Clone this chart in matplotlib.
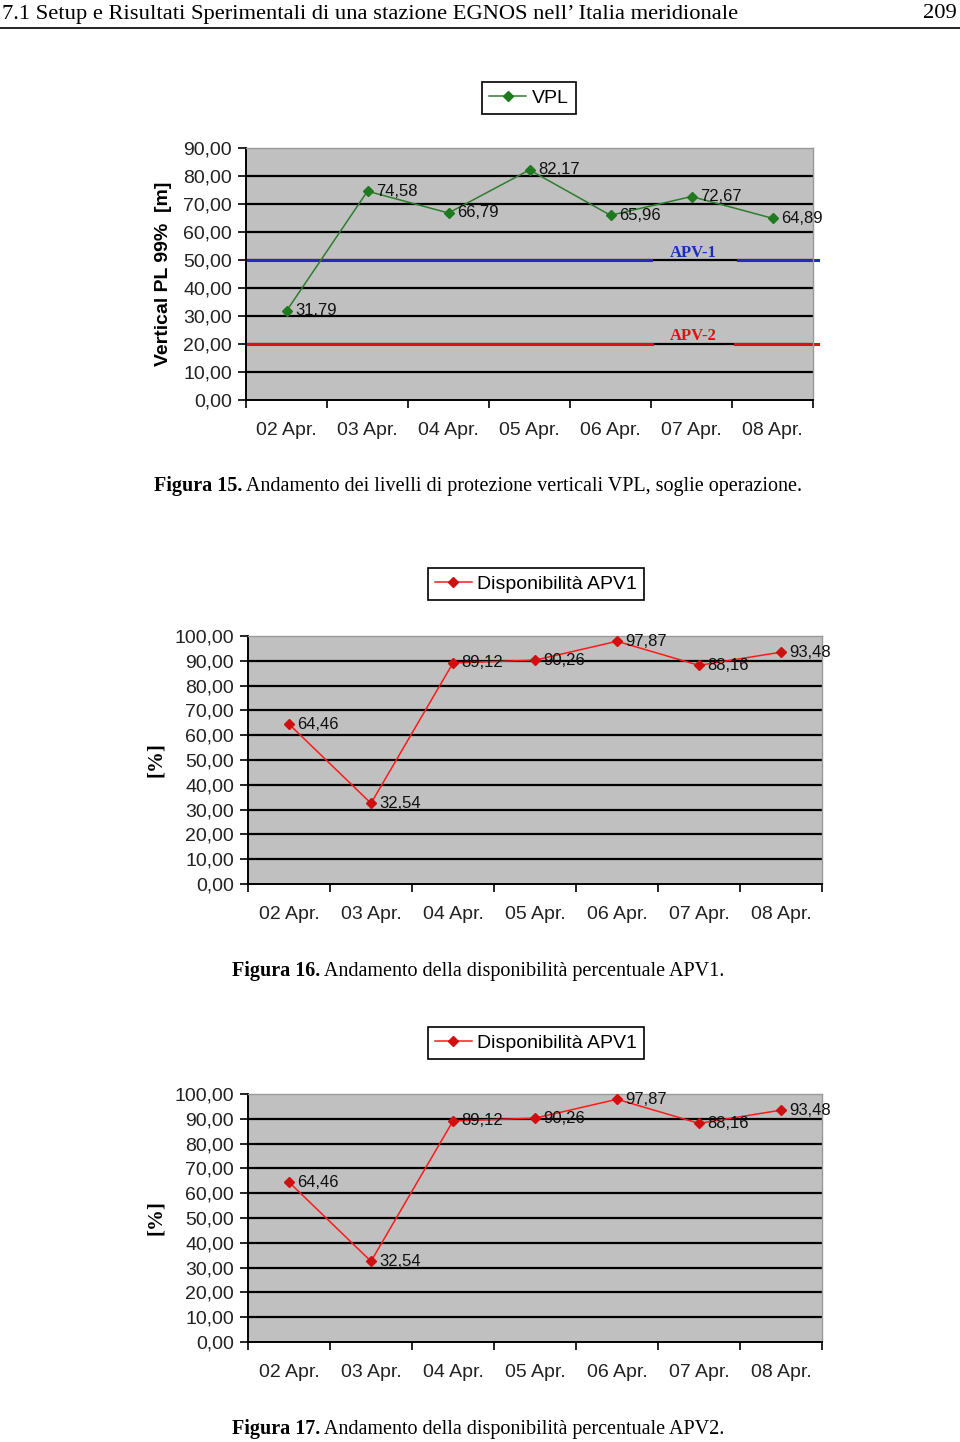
import matplotlib
matplotlib.use("Agg")
import matplotlib.pyplot as plt

days = ["02 Apr.", "03 Apr.", "04 Apr.", "05 Apr.", "06 Apr.", "07 Apr.", "08 Apr."]
vpl = [31.79, 74.58, 66.79, 82.17, 65.96, 72.67, 64.89]
apv1_thr = 50
apv2_thr = 20
disp_apv1 = [64.46, 32.54, 89.12, 90.26, 97.87, 88.16, 93.48]
disp_apv2 = [64.46, 32.54, 89.12, 90.26, 97.87, 88.16, 93.48]

W, H = 960, 1442
fig = plt.figure(figsize=(W / 100, H / 100), dpi=100)

SANS = "Liberation Sans"
SERIF = "Liberation Serif"


def fx(px):
    return px / W


def fy(py):
    return 1 - py / H


def comma(v):
    return ("%.2f" % v).replace(".", ",")


def make_chart(rect, values, ymax, color, mcolor, label, ylabel, legend_xy, ylab_x, ylab_font):
    ax = fig.add_axes(rect)
    ax.set_facecolor("#c0c0c0")
    x = range(len(values))
    ax.plot(x, values, color=color, lw=1.1, marker="D", ms=5.5,
            mfc=mcolor, mec=mcolor, label=label, zorder=5)
    for i, v in enumerate(values):
        ax.annotate(comma(v), (i, v), xytext=(6, 0), textcoords="offset points",
                    ha="left", va="center", fontsize=12, family=SANS, color="#111111", zorder=6)
    ax.set_xlim(-0.5, len(values) - 0.5)
    ax.set_ylim(0, ymax)
    yt = list(range(0, ymax + 1, 10))
    ax.set_yticks(yt)
    ax.set_yticklabels([comma(t) for t in yt], fontsize=14, family=SANS, color="#222222")
    for t in yt[1:-1]:
        ax.axhline(t, color="black", lw=1.6, zorder=1)
    ax.set_xticks(list(x))
    ax.set_xticklabels(days, fontsize=14, family=SANS, color="#222222")
    ax.set_xticks([i - 0.5 for i in range(len(values) + 1)], minor=True)
    ax.tick_params(axis="x", which="major", length=0, pad=16)
    ax.tick_params(axis="x", which="minor", length=6, width=1.2, direction="out")
    ax.tick_params(axis="y", length=6, width=1.2, direction="out", pad=4)
    for s in ("top", "right"):
        ax.spines[s].set_color("#999999")
        ax.spines[s].set_linewidth(1.0)
    for s in ("left", "bottom"):
        ax.spines[s].set_color("black")
        ax.spines[s].set_linewidth(1.4)
    fig.text(ylab_x, rect[1] + rect[3] / 2, ylabel, rotation=90, ha="center", va="center",
             **ylab_font)
    leg = ax.legend(loc="center", bbox_to_anchor=legend_xy, bbox_transform=fig.transFigure,
                    fancybox=False, edgecolor="black", framealpha=1, borderpad=0.35,
                    handlelength=1.9, handletextpad=0.3,
                    prop={"family": SANS, "size": 14})
    leg.get_frame().set_linewidth(1.2)
    return ax


# header
fig.text(fx(2), fy(14), "7.1 Setup e Risultati Sperimentali di una stazione EGNOS nell\u2019 Italia meridionale",
         ha="left", va="center", fontsize=16.2, family=SERIF)
fig.text(fx(957), fy(14), "209", ha="right", va="center", fontsize=16.2, family=SERIF)
fig.add_artist(plt.Line2D([0, 1], [fy(28), fy(28)], color="black", lw=1.2))

# chart 1: VPL
ax1 = make_chart([fx(246), fy(400), fx(813) - fx(246), fy(148) - fy(400)], vpl, 90,
                 "#2e7d2e", "#1f7a1f", "VPL", "Vertical PL 99%  [m]",
                 (fx(529), fy(98)), fx(163),
                 {"family": SANS, "fontweight": "bold", "fontsize": 14})
ax1.axhline(apv1_thr, xmin=0, xmax=0.714, color="#1a2fbf", lw=2.2, zorder=2)
ax1.axhline(apv1_thr, xmin=0.867, xmax=1.008, color="#1a2fbf", lw=2.2, zorder=2, clip_on=False)
ax1.axhline(apv2_thr, xmin=0, xmax=0.716, color="#dd1111", lw=2.2, zorder=2)
ax1.axhline(apv2_thr, xmin=0.863, xmax=1.008, color="#dd1111", lw=2.2, zorder=2, clip_on=False)
ax1.text(0.788, apv1_thr + 2.5, "APV-1", transform=ax1.get_yaxis_transform(), ha="center",
         va="center", color="#1a2fbf", fontweight="bold", fontsize=12, family=SERIF)
ax1.text(0.788, apv2_thr + 3, "APV-2", transform=ax1.get_yaxis_transform(), ha="center",
         va="center", color="#dd1111", fontweight="bold", fontsize=12, family=SERIF)

# chart 2 and 3
make_chart([fx(248), fy(884), fx(822) - fx(248), fy(636) - fy(884)], disp_apv1, 100,
           "#ff1a1a", "#d01010", "Disponibilit\u00e0 APV1", "[%]",
           (fx(536), fy(584)), fx(156),
           {"family": SERIF, "fontweight": "bold", "fontsize": 15})
make_chart([fx(248), fy(1342), fx(822) - fx(248), fy(1094) - fy(1342)], disp_apv2, 100,
           "#ff1a1a", "#d01010", "Disponibilit\u00e0 APV1", "[%]",
           (fx(536), fy(1043)), fx(156),
           {"family": SERIF, "fontweight": "bold", "fontsize": 15})

cap_ax = fig.add_axes([0, 0, 1, 1], facecolor="none")
cap_ax.set_axis_off()


def caption(xp, yp, bold, rest):
    t = cap_ax.text(fx(xp), fy(yp), bold, ha="left", va="baseline", fontsize=14.5,
                    family=SERIF, fontweight="bold", transform=cap_ax.transAxes)
    cap_ax.annotate(" " + rest, xy=(1, 0), xycoords=t, va="bottom", ha="left",
                    fontsize=14.5, family=SERIF, annotation_clip=False)


caption(154, 491, "Figura 15.", "Andamento dei livelli di protezione verticali VPL, soglie operazione.")
caption(232, 976, "Figura 16.", "Andamento della disponibilit\u00e0 percentuale APV1.")
caption(232, 1434, "Figura 17.", "Andamento della disponibilit\u00e0 percentuale APV2.")

fig.savefig("out.png", dpi=100)
